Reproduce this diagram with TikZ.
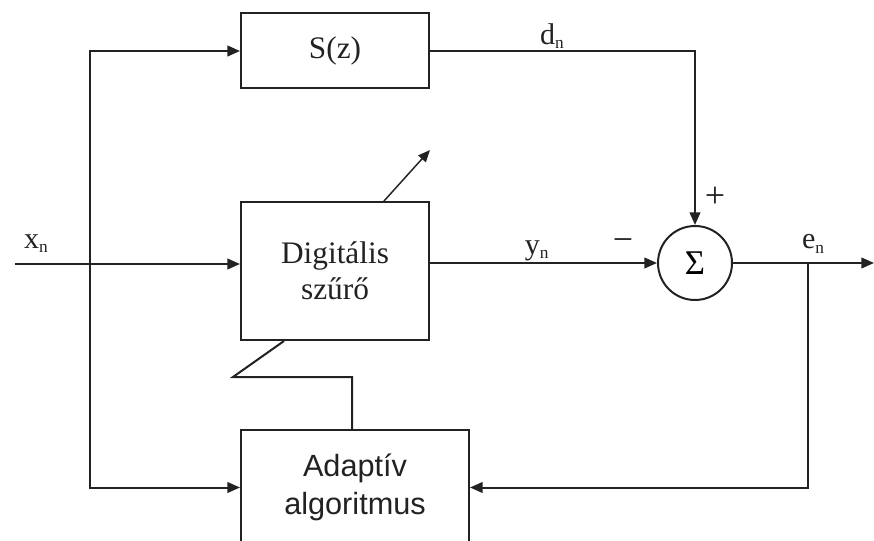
\documentclass[tikz,border=0pt]{standalone}
\usepackage{fontspec}
\setmainfont{Liberation Serif}
\setsansfont{Liberation Sans}
\usetikzlibrary{arrows.meta,calc,positioning}
\definecolor{lineGray}{HTML}{222222}
\tikzset{
  blockBox/.style={
    draw=lineGray,
    line width=1.5pt,
    align=center,
    inner sep=0pt,
    text=lineGray,
    font=\fontsize{23.5}{27}\selectfont
  },
  sumNode/.style={
    circle,
    draw=lineGray,
    line width=1.5pt,
    inner sep=0pt,
    minimum size=55.5pt,
    font=\fontsize{26}{30}\selectfont
  },
  sigArrow/.style={-{Triangle[length=9.5pt,width=8pt]}, line width=1.5pt,
    draw=lineGray},
  sigLine/.style={line width=1.5pt, draw=lineGray},
  adjArrow/.style={-{Triangle[length=9pt,width=7.5pt]}, line width=1.1pt,
    draw=lineGray},
  sigLabel/.style={font=\fontsize{22.5}{26}\selectfont, inner sep=1pt,
    text=lineGray}
}
\newcommand{\sigsub}[2]{#1\raisebox{-0.3ex}{\fontsize{13}{15}\selectfont #2}}

\begin{document}
\begin{tikzpicture}[x=0.75pt,y=-0.75pt]
  \useasboundingbox (0,0) rectangle (874,541);

  % blocks
  \node[blockBox, minimum width=141pt, minimum height=56.25pt]
    (sz) at (335,51) {S(z)};
  \node[blockBox, minimum width=141pt, minimum height=103.5pt]
    (dig) at (335,271) {Digitális\\szűrő};
  \node[blockBox, minimum width=171pt, minimum height=86.25pt,
    font=\sffamily\fontsize{23}{28.5}\selectfont]
    (ada) at (355,487.5) {Adaptív\\algoritmus};
  \node[sumNode] (sum) at (695,263) {Σ};

  % signal points
  \coordinate (in) at (15,264);
  \coordinate (br) at (90,264);
  \coordinate (out) at (874,263);
  \coordinate (tap) at (808,263);
  \coordinate (adjTip) at (430,150);
  \coordinate (ctlA) at (233,377);

  % input and branches
  \draw[sigArrow] (in) -- (dig.west |- in);
  \node[sigLabel] (xlab) at (36,244) {\sigsub{x}{n}};
  \draw[sigArrow] (br) |- (sz.west);
  \draw[sigArrow] (br) |- (ada.west);

  % desired path
  \draw[sigArrow] (sz.east) -| (sum.north)
    node[sigLabel, pos=0.23, above] (dlab) {\sigsub{d}{n}};
  \node[sigLabel, font=\fontsize{27}{30}\selectfont] (plus) at (715,197) {+};

  % filter output
  \draw[sigArrow] (dig.east |- sum.west) -- (sum.west)
    node[sigLabel, pos=0.47, above] (ylab) {\sigsub{y}{n}};
  \node[sigLabel, font=\fontsize{27}{30}\selectfont] (minus) at (623,245) {−};

  % error out and feedback
  \draw[sigArrow] (sum.east) -- (out);
  \node[sigLabel] (elab) at (813,244) {\sigsub{e}{n}};
  \draw[sigArrow] (tap) |- (ada.east);

  % adaptation
  \draw[adjArrow] ($(dig.north west)+(144,0)$) -- (adjTip);
  \draw[sigLine] ($(dig.south west)+(44,0)$) -- (ctlA)
    -| ($(ada.north west)+(112,0)$);
\end{tikzpicture}
\end{document}
